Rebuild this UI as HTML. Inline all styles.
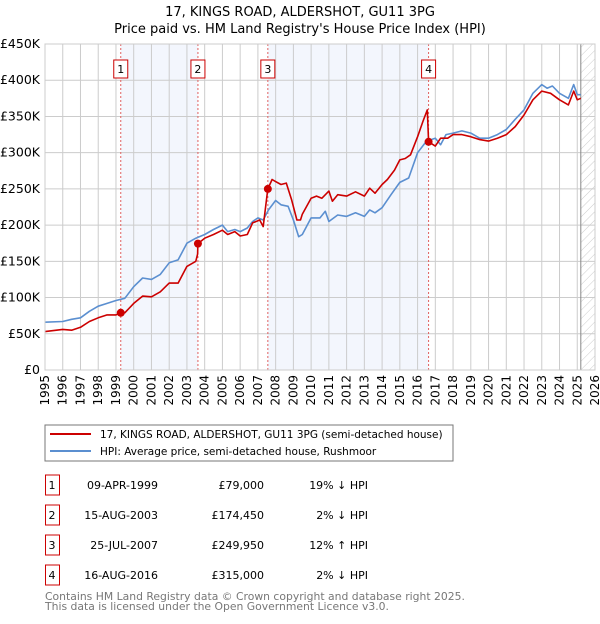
<!DOCTYPE html>
<html><head><meta charset="utf-8"><style>
body{margin:0;background:#fff;width:600px;height:620px;overflow:hidden;font-family:"DejaVu Sans","Liberation Sans",sans-serif;}
svg text{font-family:"DejaVu Sans","Liberation Sans",sans-serif;}
</style></head><body>
<svg id="chart" width="600" height="620" xmlns="http://www.w3.org/2000/svg">
<defs><pattern id="hatch" width="6" height="6" patternUnits="userSpaceOnUse" patternTransform="rotate(45)"><line x1="0" y1="0" x2="0" y2="6" stroke="#ccc" stroke-width="1"/></pattern></defs>
<text x="300" y="16" text-anchor="middle" font-size="13">17, KINGS ROAD, ALDERSHOT, GU11 3PG</text>
<text x="300" y="33" text-anchor="middle" font-size="13">Price paid vs. HM Land Registry's House Price Index (HPI)</text>
<g id="plot"></g>
<rect x="45" y="425" width="408" height="36" fill="#fff" stroke="#777"/>
<line x1="50" y1="434" x2="91" y2="434" stroke="#cc0000" stroke-width="2"/>
<text x="100" y="438" font-size="10.5">17, KINGS ROAD, ALDERSHOT, GU11 3PG (semi-detached house)</text>
<line x1="50" y1="451" x2="91" y2="451" stroke="#5b8fd0" stroke-width="2"/>
<text x="100" y="455" font-size="10.5">HPI: Average price, semi-detached house, Rushmoor</text>
<g id="table"></g>
<text x="45" y="600" font-size="10.8" fill="#777">Contains HM Land Registry data © Crown copyright and database right 2025.</text>
<text x="45" y="610" font-size="10.8" fill="#777">This data is licensed under the Open Government Licence v3.0.</text>
</svg>
<script>
const yearTicks=[1995,1996,1997,1998,1999,2000,2001,2002,2003,2004,2005,2006,2007,2008,2009,2010,2011,2012,2013,2014,2015,2016,2017,2018,2019,2020,2021,2022,2023,2024,2025,2026];
const valueTicks=[0,50,100,150,200,250,300,350,400,450];
const valueTickLabels=["£0","£50K","£100K","£150K","£200K","£250K","£300K","£350K","£400K","£450K"];
const redYears=[1995,1996,1996.5,1997,1997.5,1998,1998.5,1999,1999.27,1999.5,2000,2000.5,2001,2001.5,2002,2002.5,2003,2003.5,2003.6,2003.62,2004,2004.5,2005,2005.3,2005.7,2006,2006.4,2006.7,2007.1,2007.3,2007.56,2007.8,2008,2008.3,2008.6,2008.9,2009.2,2009.4,2009.5,2010,2010.3,2010.6,2011,2011.2,2011.5,2012,2012.5,2013,2013.3,2013.6,2014,2014.3,2014.7,2015,2015.3,2015.6,2016,2016.3,2016.55,2016.62,2017,2017.3,2017.7,2018,2018.5,2019,2019.5,2020,2020.5,2021,2021.5,2022,2022.5,2023,2023.5,2024,2024.5,2024.8,2025,2025.2];
const redValues=[53,56,55,59,67,72,76,76,79,79,92,102,101,108,120,120,143,150,160,174.45,182,187,193,187,191,185,187,203,207,198,249.95,263,260,256,258,235,207,207,215,237,240,237,247,233,242,240,246,240,251,244,256,263,276,290,292,297,322,343,359,315,309,320,320,325,325,322,318,316,320,325,336,352,373,385,382,373,366,385,373,375];
const blueYears=[1995,1996,1996.5,1997,1997.5,1998,1998.5,1999,1999.5,2000,2000.5,2001,2001.5,2002,2002.5,2003,2003.5,2004,2004.5,2005,2005.3,2005.7,2006,2006.4,2006.7,2007,2007.3,2007.6,2008,2008.3,2008.7,2009,2009.3,2009.5,2010,2010.5,2010.8,2011,2011.5,2012,2012.5,2013,2013.3,2013.6,2014,2014.5,2015,2015.5,2016,2016.5,2017,2017.3,2017.6,2018,2018.5,2019,2019.5,2020,2020.5,2021,2021.5,2022,2022.5,2023,2023.3,2023.6,2024,2024.5,2024.8,2025,2025.2];
const blueValues=[66,67,70,72,81,88,92,96,99,115,127,125,132,148,152,175,182,187,194,200,191,194,191,196,205,210,207,221,234,228,226,207,184,187,210,210,219,205,214,212,217,212,221,217,224,242,259,265,300,316,320,311,325,327,330,327,320,320,325,332,346,359,382,394,389,392,382,375,394,380,380];
const saleYears=[1999.27,2003.62,2007.56,2016.62];
const saleValues=[79,174.45,249.95,315];
const saleLabels=["1","2","3","4"];
const saleDates=["09-APR-1999","15-AUG-2003","25-JUL-2007","16-AUG-2016"];
const salePrices=["£79,000","£174,450","£249,950","£315,000"];
const saleHpi=["19% ↓ HPI","2% ↓ HPI","12% ↑ HPI","2% ↓ HPI"];

const NS="http://www.w3.org/2000/svg";
const X0=45,X1=595,Y0=370,Y1=44;
const xs=y=>X0+(y-1995)/(2026-1995)*(X1-X0);
const ys=v=>Y0-v/450*(Y0-Y1);
const plot=document.getElementById('plot');
function mk(tag,attrs,parent){const e=document.createElementNS(NS,tag);for(const k in attrs)e.setAttribute(k,attrs[k]);(parent||plot).appendChild(e);return e;}
let s=mk('rect',{x:xs(saleYears[0]),y:Y1,width:xs(saleYears[1])-xs(saleYears[0]),height:Y0-Y1,fill:'#f3f6fd'});


s=mk('rect',{x:xs(saleYears[2]),y:Y1,width:xs(saleYears[3])-xs(saleYears[2]),height:Y0-Y1,fill:'#f3f6fd'});


const hx=xs(2025.2);
s=mk('rect',{x:hx,y:Y1,width:X1-hx,height:Y0-Y1,fill:'url(#hatch)'});


yearTicks.forEach(y=>{const l=mk('line',{x1:xs(y),x2:xs(y),y1:Y1,y2:Y0,stroke:'#ccc','stroke-width':1});


const t=mk('text',{x:0,y:0,'font-size':12,'text-anchor':'end',transform:`translate(${xs(y)+4},${Y0+5}) rotate(-90)`});t.textContent=y;

});
valueTicks.forEach((v,i)=>{const l=mk('line',{x1:X0,x2:X1,y1:ys(v),y2:ys(v),stroke:'#ccc','stroke-width':1});


const t=mk('text',{x:40,y:ys(v)+4,'font-size':12.5,'text-anchor':'end'});t.textContent=valueTickLabels[i];

});
let vl=mk('line',{x1:hx,x2:hx,y1:Y1,y2:Y0,stroke:'#888','stroke-width':1});


saleYears.forEach((y,i)=>{const l=mk('line',{x1:xs(y),x2:xs(y),y1:Y1,y2:Y0,stroke:'#e06060','stroke-width':1,'stroke-dasharray':'2,2'});


const r=mk('rect',{x:xs(y)-7,y:60,width:14,height:18,fill:'#fff',stroke:'#cc0000'});


const t=mk('text',{x:xs(y),y:73,'font-size':11,'text-anchor':'middle'});t.textContent=saleLabels[i];

});
function path(xa,va,color,name){const d=xa.map((y,i)=>(i?'L':'M')+xs(y).toFixed(1)+','+ys(va[i]).toFixed(1)).join('');
const p=mk('path',{d:d,fill:'none',stroke:color,'stroke-width':1.6,'stroke-linejoin':'round'});

}
path(blueYears,blueValues,'#5b8fd0','hpi-line');
path(redYears,redValues,'#cc0000','property-price-line');
saleYears.forEach((y,i)=>{const c=mk('circle',{cx:xs(y),cy:ys(saleValues[i]),r:4,fill:'#cc0000'});

});
mk('rect',{x:X0,y:Y1,width:X1-X0,height:Y0-Y1,fill:'none',stroke:'#ccc'});
const tb=document.getElementById('table');
const rowY=[485,515,545,575];
saleLabels.forEach((lab,i)=>{const cy=rowY[i];
const r=mk('rect',{x:45.5,y:cy-10,width:14,height:20,fill:'#fff',stroke:'#cc0000'},tb);


const vals=[[52,'middle',lab,'table-row-number'],[158,'end',saleDates[i],'table-row-date'],[264,'end',salePrices[i],'table-row-price'],[368,'end',saleHpi[i],'table-row-hpi']];
vals.forEach(v=>{const t=mk('text',{x:v[0],y:cy+4,'font-size':11,'text-anchor':v[1]},tb);t.textContent=v[2];

});});
</script>
</body></html>
